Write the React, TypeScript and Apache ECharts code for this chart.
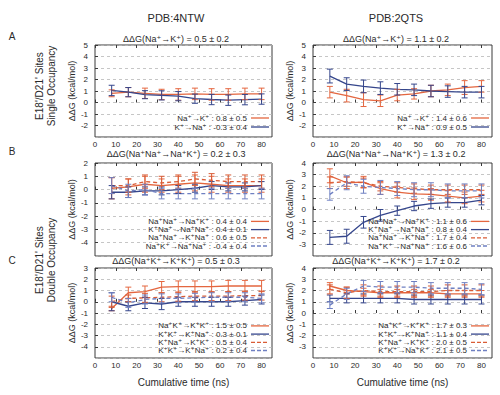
import React, { useEffect, useRef } from "react";
import * as echarts from "echarts";

// ---------- data ----------
const TIME = [8, 16, 24, 32, 40, 48, 56, 64, 72, 80];
const X_TICKS = [0, 10, 20, 30, 40, 50, 60, 70, 80];
const COL_TITLES = ["PDB:4NTW", "PDB:2QTS"];
const ROW_LETTERS = ["A", "B", "C"];
const SIDE_SINGLE = ["E18'/D21' Sites", "Single Occupancy"];
const SIDE_DOUBLE = ["E18'/D21' Sites", "Double Occupancy"];
const Y_NAME = "ΔΔG (kcal/mol)";
const X_NAME = "Cumulative time (ns)";

// Panel A, PDB:4NTW
const A1_TITLE = "ΔΔG(Na⁺→K⁺) = 0.5 ± 0.2";
const A1_LABELS = ["Na⁺→K⁺ : 0.8 ± 0.5", "K⁺→Na⁺ : -0.3 ± 0.4"];
const A1_NAK = [0.8, 0.9, 0.8, 0.7, 0.7, 0.75, 0.7, 0.7, 0.75, 0.75];
const A1_NAK_ERR = [0.3, 0.4, 0.45, 0.45, 0.5, 0.5, 0.5, 0.5, 0.5, 0.5];
const A1_KNA = [1.05, 0.9, 0.68, 0.62, 0.55, 0.33, 0.26, 0.2, 0.25, 0.3];
const A1_KNA_ERR = [0.45, 0.4, 0.35, 0.4, 0.4, 0.4, 0.45, 0.45, 0.45, 0.45];

// Panel A, PDB:2QTS
const A2_TITLE = "ΔΔG(Na⁺→K⁺) = 1.1 ± 0.2";
const A2_LABELS = ["Na⁺→K⁺ : 1.4 ± 0.6", "K⁺→Na⁺ : 0.9 ± 0.5"];
const A2_NAK = [0.9, 0.6, 0.25, 0.15, 0.65, 0.75, 1.0, 1.1, 1.3, 1.4];
const A2_NAK_ERR = [0.5, 0.55, 0.6, 0.5, 0.5, 0.45, 0.5, 0.5, 0.6, 0.5];
const A2_KNA = [2.3, 1.6, 1.4, 1.25, 1.15, 1.1, 1.0, 0.95, 0.9, 0.9];
const A2_KNA_ERR = [0.6, 0.55, 0.55, 0.55, 0.5, 0.5, 0.5, 0.5, 0.5, 0.5];

// Panel B, PDB:4NTW
const B1_TITLE = "ΔΔG(Na⁺Na⁺→Na⁺K⁺) = 0.2 ± 0.3";
const B1_LABELS = [
  "Na⁺Na⁺→Na⁺K⁺ : 0.4 ± 0.4",
  "K⁺Na⁺→Na⁺Na⁺ : 0.4 ± 0.1",
  "Na⁺Na⁺→K⁺Na⁺ : 0.6 ± 0.5",
  "Na⁺K⁺→Na⁺Na⁺ : -0.4 ± 0.4",
];
const B1_S1 = [0.1, 0.2, 0.4, 0.3, 0.4, 0.5, 0.4, 0.3, 0.3, 0.3];
const B1_S1_ERR = [0.8, 0.6, 0.6, 0.5, 0.6, 0.6, 0.6, 0.5, 0.5, 0.5];
const B1_S2 = [-0.2, -0.2, -0.1, -0.1, 0.0, 0.1, 0.3, 0.2, 0.2, 0.3];
const B1_S2_ERR = [0.5, 0.4, 0.3, 0.3, 0.3, 0.3, 0.3, 0.3, 0.3, 0.3];
const B1_S3 = [0.3, 0.3, 0.6, 0.5, 0.6, 0.8, 0.7, 0.6, 0.6, 0.6];
const B1_S3_ERR = [0.6, 0.5, 0.5, 0.5, 0.5, 0.5, 0.5, 0.5, 0.5, 0.5];
const B1_S4 = [0.3, -0.1, 0.0, -0.3, -0.3, -0.3, -0.3, -0.3, -0.3, -0.3];
const B1_S4_ERR = [0.6, 0.5, 0.4, 0.4, 0.4, 0.4, 0.4, 0.4, 0.4, 0.4];

// Panel B, PDB:2QTS
const B2_TITLE = "ΔΔG(Na⁺Na⁺→Na⁺K⁺) = 1.3 ± 0.2";
const B2_LABELS = [
  "Na⁺Na⁺→Na⁺K⁺ : 1.1 ± 0.6",
  "K⁺Na⁺→Na⁺Na⁺ : 0.8 ± 0.4",
  "Na⁺Na⁺→K⁺Na⁺ : 1.7 ± 0.4",
  "Na⁺K⁺→Na⁺Na⁺ : 1.6 ± 0.6",
];
const B2_S1 = [2.9, 2.3, 2.35, 1.8, 1.5, 1.35, 1.3, 1.15, 1.0, 1.15];
const B2_S1_ERR = [0.6, 0.5, 0.5, 0.5, 0.5, 0.5, 0.5, 0.5, 0.5, 0.5];
const B2_S2 = [-2.4, -2.3, -1.1, -0.5, -0.1, 0.3, 0.5, 0.6, 0.6, 0.8];
const B2_S2_ERR = [0.6, 0.6, 0.5, 0.5, 0.4, 0.4, 0.4, 0.4, 0.4, 0.4];
const B2_S3 = [2.3, 2.4, 2.3, 2.0, 1.9, 1.8, 1.7, 1.7, 1.7, 1.7];
const B2_S3_ERR = [0.5, 0.4, 0.4, 0.4, 0.4, 0.4, 0.4, 0.4, 0.4, 0.4];
const B2_S4 = [1.3, 2.3, 2.0, 1.9, 1.8, 1.7, 1.7, 1.6, 1.6, 1.6];
const B2_S4_ERR = [0.5, 0.6, 0.6, 0.6, 0.6, 0.6, 0.6, 0.6, 0.6, 0.6];

// Panel C, PDB:4NTW
const C1_TITLE = "ΔΔG(Na⁺K⁺→K⁺K⁺) = 0.5 ± 0.3";
const C1_LABELS = [
  "Na⁺K⁺→K⁺K⁺ : 1.5 ± 0.5",
  "K⁺K⁺→K⁺Na⁺ : 0.3 ± 0.1",
  "K⁺Na⁺→K⁺K⁺ : 0.5 ± 0.4",
  "K⁺K⁺→K⁺Na⁺ : 0.2 ± 0.4",
];
const C1_S1 = [-0.6, 0.8, 0.9, 1.3, 1.35, 1.35, 1.35, 1.4, 1.4, 1.4];
const C1_S1_ERR = [0.2, 0.5, 0.5, 0.5, 0.5, 0.5, 0.5, 0.5, 0.5, 0.5];
const C1_S2 = [0.0, -0.4, -0.1, -0.2, 0.0, 0.0, 0.0, 0.0, 0.1, 0.2];
const C1_S2_ERR = [0.8, 0.4, 0.5, 0.5, 0.4, 0.4, 0.4, 0.4, 0.4, 0.4];
const C1_S3 = [0.0, 0.3, 0.35, 0.4, 0.45, 0.5, 0.5, 0.5, 0.55, 0.55];
const C1_S3_ERR = [0.5, 0.3, 0.4, 0.4, 0.4, 0.4, 0.4, 0.4, 0.4, 0.4];
const C1_S4 = [0.4, -0.1, 0.2, 0.3, 0.3, 0.35, 0.4, 0.4, 0.4, 0.3];
const C1_S4_ERR = [0.4, 0.4, 0.4, 0.4, 0.4, 0.4, 0.4, 0.4, 0.4, 0.4];

// Panel C, PDB:2QTS
const C2_TITLE = "ΔΔG(Na⁺K⁺→K⁺K⁺) = 1.7 ± 0.2";
const C2_LABELS = [
  "Na⁺K⁺→K⁺K⁺ : 1.7 ± 0.3",
  "K⁺K⁺→K⁺Na⁺ : 1.1 ± 0.4",
  "K⁺Na⁺→K⁺K⁺ : 2.0 ± 0.5",
  "K⁺K⁺→Na⁺K⁺ : 2.1 ± 0.5",
];
const C2_S1 = [2.4, 2.0, 1.9, 1.8, 1.8, 1.8, 1.8, 1.7, 1.7, 1.7];
const C2_S1_ERR = [0.3, 0.3, 0.3, 0.3, 0.3, 0.3, 0.3, 0.3, 0.3, 0.3];
const C2_S2 = [1.3, 1.3, 1.3, 1.3, 1.3, 1.2, 1.2, 1.2, 1.2, 1.2];
const C2_S2_ERR = [0.3, 0.4, 0.4, 0.4, 0.4, 0.4, 0.4, 0.4, 0.4, 0.4];
const C2_S3 = [2.1, 1.8, 2.0, 1.9, 1.9, 1.9, 1.9, 2.0, 2.0, 2.0];
const C2_S3_ERR = [0.4, 0.5, 0.5, 0.5, 0.5, 0.5, 0.5, 0.5, 0.5, 0.5];
const C2_S4 = [0.7, 1.7, 2.4, 2.3, 2.3, 2.3, 2.2, 2.2, 2.2, 2.1];
const C2_S4_ERR = [0.3, 0.5, 0.5, 0.5, 0.5, 0.5, 0.5, 0.5, 0.5, 0.5];

// ---------- styles & layout ----------
const FONT = '"Liberation Sans", "DejaVu Sans", Arial, sans-serif';
const TEXT = "#2a2a2a";
const STYLES = [
  { color: "#e4663f", dash: false }, // orange solid
  { color: "#35468c", dash: false }, // blue solid
  { color: "#d95c36", dash: true }, // orange dashed
  { color: "#6f80c2", dash: true }, // blue dashed
];
const COLS = [
  { left: 95, width: 177, titleX: 176 },
  { left: 313, width: 179, titleX: 396 },
];
// axisLabels: tick labels drawn by the axis; pixLabels: tick labels placed at the axis' own pixel positions
const ROWS = [
  { top: 45, height: 92, titleY: 39, axisLabels: false, pixLabels: true, xName: false, legStep: 9, legBottom: 10 },
  { top: 163, height: 93, titleY: 153.5, axisLabels: false, pixLabels: false, xName: false, legStep: 8.2, legBottom: 10 },
  { top: 268, height: 90, titleY: 261, axisLabels: true, pixLabels: false, xName: true, legStep: 8.2, legBottom: 7.5 },
];

type Panel = {
  row: number;
  col: number;
  yMin: number;
  yMax: number;
  title: string;
  labels: string[];
  series: { v: number[]; e: number[] }[];
};

const PANELS: Panel[] = [
  { row: 0, col: 0, yMin: -3, yMax: 5, title: A1_TITLE, labels: A1_LABELS,
    series: [{ v: A1_NAK, e: A1_NAK_ERR }, { v: A1_KNA, e: A1_KNA_ERR }] },
  { row: 0, col: 1, yMin: -3, yMax: 5, title: A2_TITLE, labels: A2_LABELS,
    series: [{ v: A2_NAK, e: A2_NAK_ERR }, { v: A2_KNA, e: A2_KNA_ERR }] },
  { row: 1, col: 0, yMin: -5, yMax: 2, title: B1_TITLE, labels: B1_LABELS,
    series: [{ v: B1_S1, e: B1_S1_ERR }, { v: B1_S2, e: B1_S2_ERR }, { v: B1_S3, e: B1_S3_ERR }, { v: B1_S4, e: B1_S4_ERR }] },
  { row: 1, col: 1, yMin: -4, yMax: 4, title: B2_TITLE, labels: B2_LABELS,
    series: [{ v: B2_S1, e: B2_S1_ERR }, { v: B2_S2, e: B2_S2_ERR }, { v: B2_S3, e: B2_S3_ERR }, { v: B2_S4, e: B2_S4_ERR }] },
  { row: 2, col: 0, yMin: -5, yMax: 3, title: C1_TITLE, labels: C1_LABELS,
    series: [{ v: C1_S1, e: C1_S1_ERR }, { v: C1_S2, e: C1_S2_ERR }, { v: C1_S3, e: C1_S3_ERR }, { v: C1_S4, e: C1_S4_ERR }] },
  { row: 2, col: 1, yMin: -4, yMax: 4, title: C2_TITLE, labels: C2_LABELS,
    series: [{ v: C2_S1, e: C2_S1_ERR }, { v: C2_S2, e: C2_S2_ERR }, { v: C2_S3, e: C2_S3_ERR }, { v: C2_S4, e: C2_S4_ERR }] },
];

function buildOption() {
  const grid: any[] = [];
  const xAxis: any[] = [];
  const yAxis: any[] = [];
  const series: any[] = [];
  const graphic: any[] = [];

  PANELS.forEach((p, i) => {
    const c = COLS[p.col];
    const r = ROWS[p.row];
    grid.push({
      left: c.left, top: r.top, width: c.width, height: r.height,
      show: true, borderColor: "#3a3a3a", borderWidth: 1, backgroundColor: "transparent",
    });
    const xBase = {
      type: "value", gridIndex: i, min: 0, max: 85, interval: 10,
      splitLine: { show: false }, axisLine: { show: false },
      axisTick: { show: true, inside: true, length: 3, customValues: X_TICKS, lineStyle: { color: "#3a3a3a" } },
    };
    xAxis.push({
      ...xBase, position: "bottom",
      name: r.xName ? X_NAME : "", nameLocation: "middle", nameGap: 19,
      nameTextStyle: { fontFamily: FONT, fontSize: 10, color: TEXT },
      axisLabel: {
        show: r.axisLabels, customValues: X_TICKS, margin: 3,
        fontFamily: FONT, fontSize: 8, color: TEXT,
        formatter: (v: number) => (v % 10 === 0 && v <= 80 ? String(v) : ""),
      },
    });
    xAxis.push({ ...xBase, position: "top", axisLabel: { show: false } });
    yAxis.push({
      type: "value", gridIndex: i, min: p.yMin, max: p.yMax, interval: 1,
      name: Y_NAME, nameLocation: "middle", nameGap: 15, nameRotate: 90,
      nameTextStyle: { fontFamily: FONT, fontSize: 9, color: TEXT },
      axisLine: { show: false },
      axisTick: { show: true, inside: true, length: 3, lineStyle: { color: "#3a3a3a" } },
      axisLabel: { showMinLabel: false, margin: 7, fontFamily: FONT, fontSize: 8, color: TEXT },
      splitLine: { show: true, lineStyle: { color: "#b8b8b8", type: [3, 3], width: 0.8 } },
    });

    p.series.forEach((s, k) => {
      const st = STYLES[k];
      const pts = TIME.map((t, j) => [t, s.v[j], s.e[j]]);
      series.push({
        type: "line", xAxisIndex: 2 * i, yAxisIndex: i, symbol: "none",
        data: pts.map((d) => [d[0], d[1]]),
        lineStyle: { color: st.color, width: 1.3, type: st.dash ? [4, 3] : "solid" },
        silent: true, z: 3,
      });
      series.push({
        type: "custom", xAxisIndex: 2 * i, yAxisIndex: i, data: pts,
        encode: { x: 0, y: 1 }, silent: true, z: 4,
        renderItem: (_params: any, api: any) => {
          const x = api.value(0), y = api.value(1), e = api.value(2);
          const top = api.coord([x, y + e]);
          const bot = api.coord([x, y - e]);
          const cw = 3;
          const sty = { stroke: st.color, lineWidth: 1 };
          return {
            type: "group",
            children: [
              { type: "line", shape: { x1: top[0], y1: top[1], x2: bot[0], y2: bot[1] }, style: sty },
              { type: "line", shape: { x1: top[0] - cw, y1: top[1], x2: top[0] + cw, y2: top[1] }, style: sty },
              { type: "line", shape: { x1: bot[0] - cw, y1: bot[1], x2: bot[0] + cw, y2: bot[1] }, style: sty },
            ],
          };
        },
      });
    });

    // panel title
    graphic.push({
      type: "text", x: c.titleX, y: r.titleY,
      style: { text: p.title, fontFamily: FONT, fontSize: 9, fill: TEXT, align: "center", verticalAlign: "middle" },
    });
    // legend
    const right = c.left + c.width;
    const n = p.labels.length;
    p.labels.forEach((lab, k) => {
      const y = r.top + r.height - r.legBottom - (n - 1 - k) * r.legStep;
      const st = STYLES[k];
      graphic.push({
        type: "text", x: right - 25, y,
        style: { text: lab, fontFamily: FONT, fontSize: 8, fill: TEXT, align: "right", verticalAlign: "middle" },
        z: 10,
      });
      graphic.push({
        type: "line", shape: { x1: right - 21, y1: y, x2: right - 3, y2: y },
        style: { stroke: st.color, lineWidth: 1.3, lineDash: st.dash ? [4, 2] : null },
        z: 10,
      });
    });
  });

  // column titles
  COLS.forEach((c, k) => {
    graphic.push({
      type: "text", x: c.titleX, y: 18,
      style: { text: COL_TITLES[k], fontFamily: FONT, fontSize: 11, fill: TEXT, align: "center", verticalAlign: "middle" },
    });
  });
  // row letters
  const letterY = [36, 151, 260];
  ROW_LETTERS.forEach((L, k) => {
    graphic.push({
      type: "text", x: 12, y: letterY[k],
      style: { text: L, fontFamily: FONT, fontSize: 10, fill: TEXT, align: "center", verticalAlign: "middle" },
    });
  });
  // side labels
  const side = [
    { lines: SIDE_SINGLE, y: 86 },
    { lines: SIDE_DOUBLE, y: 260 },
  ];
  side.forEach((sd) => {
    sd.lines.forEach((t, k) => {
      graphic.push({
        type: "text", x: 39 + k * 12, y: sd.y, rotation: Math.PI / 2,
        style: { text: t, fontFamily: FONT, fontSize: 10, fill: TEXT, align: "center", verticalAlign: "middle" },
      });
    });
  });

  return {
    animation: false,
    backgroundColor: "#ffffff",
    grid, xAxis, yAxis, series, graphic,
  };
}

export default function App() {
  const ref = useRef<HTMLDivElement>(null);
  useEffect(() => {
    if (!ref.current) return;
    const chart = echarts.init(ref.current, null, { renderer: "svg" });
    const option: any = buildOption();
    chart.setOption(option);
    // tick labels of the top row, placed at the pixel positions of the axis' own scale
    const extra: any[] = [];
    PANELS.forEach((p, i) => {
      const r = ROWS[p.row];
      if (!r.pixLabels) return;
      X_TICKS.forEach((v) => {
        const px = chart.convertToPixel({ xAxisIndex: 2 * i } as any, v) as unknown as number;
        if (typeof px !== "number" || !isFinite(px)) return;
        extra.push({
          type: "text", x: px, y: r.top + r.height + 7.5,
          style: { text: String(v), fontFamily: FONT, fontSize: 8, fill: TEXT, align: "center", verticalAlign: "middle" },
        });
      });
    });
    if (extra.length) chart.setOption({ graphic: [...option.graphic, ...extra] });
    return () => chart.dispose();
  }, []);
  return <div ref={ref} style={{ position: "absolute", left: 0, top: 0, width: 500, height: 395 }} />;
}
